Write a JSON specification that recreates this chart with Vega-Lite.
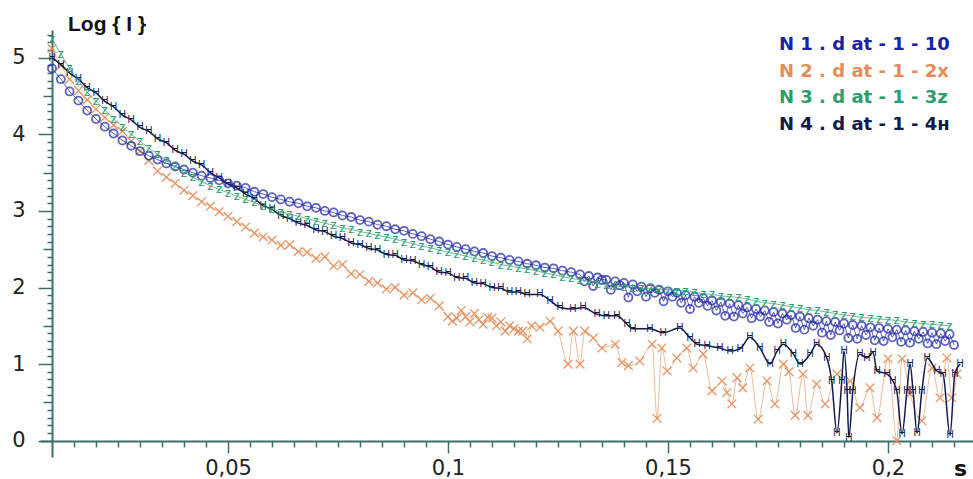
{
"$schema":"https://vega.github.io/schema/vega-lite/v6.json",
"width":933,"height":427,"autosize":"none",
"padding":{"left":40,"top":30,"right":0,"bottom":22},
"background":"white",
"config":{"view":{"stroke":null},"font":"DejaVu Sans","locale":{"number":{"decimal":",","thousands":".","grouping":[3],"currency":["","€"]}}},
"title":{"text":"Log { I }","anchor":"start","frame":"group","fontSize":21,"fontWeight":"bold","font":"Liberation Sans","color":"#111111","dx":28,"dy":21,"offset":-1,"baseline":"alphabetic"},
"resolve":{"axis":{"x":"independent","y":"independent"}},
"datasets":{
"n1":[{"s":0.010,"v":4.86},{"s":0.012,"v":4.72},{"s":0.014,"v":4.56},{"s":0.016,"v":4.44},{"s":0.018,"v":4.31},{"s":0.020,"v":4.20},{"s":0.022,"v":4.10},{"s":0.024,"v":4.01},{"s":0.026,"v":3.92},{"s":0.028,"v":3.85},{"s":0.030,"v":3.78},{"s":0.032,"v":3.72},{"s":0.034,"v":3.67},{"s":0.036,"v":3.62},{"s":0.038,"v":3.58},{"s":0.040,"v":3.54},{"s":0.042,"v":3.50},{"s":0.044,"v":3.46},{"s":0.046,"v":3.43},{"s":0.048,"v":3.40},{"s":0.050,"v":3.36},{"s":0.052,"v":3.33},{"s":0.054,"v":3.30},{"s":0.056,"v":3.25},{"s":0.058,"v":3.22},{"s":0.060,"v":3.18},{"s":0.062,"v":3.15},{"s":0.064,"v":3.12},{"s":0.066,"v":3.10},{"s":0.068,"v":3.06},{"s":0.070,"v":3.04},{"s":0.072,"v":3.00},{"s":0.074,"v":2.98},{"s":0.076,"v":2.94},{"s":0.078,"v":2.92},{"s":0.080,"v":2.88},{"s":0.082,"v":2.86},{"s":0.084,"v":2.82},{"s":0.086,"v":2.80},{"s":0.088,"v":2.76},{"s":0.090,"v":2.74},{"s":0.092,"v":2.70},{"s":0.094,"v":2.67},{"s":0.096,"v":2.63},{"s":0.098,"v":2.60},{"s":0.100,"v":2.56},{"s":0.102,"v":2.53},{"s":0.104,"v":2.50},{"s":0.106,"v":2.47},{"s":0.108,"v":2.45},{"s":0.110,"v":2.41},{"s":0.112,"v":2.39},{"s":0.114,"v":2.36},{"s":0.116,"v":2.34},{"s":0.118,"v":2.31},{"s":0.120,"v":2.29},{"s":0.122,"v":2.26},{"s":0.124,"v":2.25},{"s":0.126,"v":2.22},{"s":0.128,"v":2.20},{"s":0.130,"v":2.17},{"s":0.131,"v":2.08},{"s":0.132,"v":2.15},{"s":0.133,"v":2.02},{"s":0.134,"v":2.13},{"s":0.135,"v":2.10},{"s":0.136,"v":2.10},{"s":0.137,"v":1.97},{"s":0.138,"v":2.08},{"s":0.139,"v":2.03},{"s":0.140,"v":2.06},{"s":0.141,"v":1.87},{"s":0.142,"v":2.04},{"s":0.143,"v":1.95},{"s":0.144,"v":2.01},{"s":0.145,"v":1.88},{"s":0.146,"v":1.99},{"s":0.147,"v":1.93},{"s":0.148,"v":1.97},{"s":0.149,"v":1.82},{"s":0.150,"v":1.95},{"s":0.151,"v":1.88},{"s":0.152,"v":1.93},{"s":0.153,"v":1.80},{"s":0.154,"v":1.90},{"s":0.155,"v":1.72},{"s":0.156,"v":1.88},{"s":0.157,"v":1.80},{"s":0.158,"v":1.86},{"s":0.159,"v":1.76},{"s":0.160,"v":1.83},{"s":0.161,"v":1.70},{"s":0.162,"v":1.81},{"s":0.163,"v":1.63},{"s":0.164,"v":1.79},{"s":0.165,"v":1.62},{"s":0.166,"v":1.77},{"s":0.167,"v":1.66},{"s":0.168,"v":1.74},{"s":0.169,"v":1.60},{"s":0.170,"v":1.72},{"s":0.171,"v":1.62},{"s":0.172,"v":1.70},{"s":0.173,"v":1.55},{"s":0.174,"v":1.68},{"s":0.175,"v":1.53},{"s":0.176,"v":1.66},{"s":0.177,"v":1.58},{"s":0.178,"v":1.64},{"s":0.179,"v":1.47},{"s":0.180,"v":1.62},{"s":0.181,"v":1.45},{"s":0.182,"v":1.60},{"s":0.183,"v":1.50},{"s":0.184,"v":1.58},{"s":0.185,"v":1.41},{"s":0.186,"v":1.56},{"s":0.187,"v":1.38},{"s":0.188,"v":1.55},{"s":0.189,"v":1.44},{"s":0.190,"v":1.53},{"s":0.191,"v":1.34},{"s":0.192,"v":1.51},{"s":0.193,"v":1.33},{"s":0.194,"v":1.50},{"s":0.195,"v":1.38},{"s":0.196,"v":1.48},{"s":0.197,"v":1.31},{"s":0.198,"v":1.47},{"s":0.199,"v":1.30},{"s":0.200,"v":1.46},{"s":0.201,"v":1.35},{"s":0.202,"v":1.45},{"s":0.203,"v":1.29},{"s":0.204,"v":1.44},{"s":0.205,"v":1.28},{"s":0.206,"v":1.43},{"s":0.207,"v":1.33},{"s":0.208,"v":1.42},{"s":0.209,"v":1.27},{"s":0.210,"v":1.41},{"s":0.211,"v":1.26},{"s":0.212,"v":1.40},{"s":0.213,"v":1.30},{"s":0.214,"v":1.39},{"s":0.215,"v":1.25}],
"n2":[{"s":0.010,"v":5.12},{"s":0.012,"v":4.90},{"s":0.014,"v":4.72},{"s":0.016,"v":4.57},{"s":0.018,"v":4.45},{"s":0.020,"v":4.33},{"s":0.022,"v":4.22},{"s":0.024,"v":4.12},{"s":0.026,"v":4.04},{"s":0.028,"v":3.91},{"s":0.030,"v":3.78},{"s":0.032,"v":3.66},{"s":0.034,"v":3.52},{"s":0.036,"v":3.44},{"s":0.038,"v":3.36},{"s":0.040,"v":3.27},{"s":0.042,"v":3.20},{"s":0.044,"v":3.12},{"s":0.046,"v":3.06},{"s":0.048,"v":2.99},{"s":0.050,"v":2.93},{"s":0.052,"v":2.86},{"s":0.054,"v":2.79},{"s":0.056,"v":2.71},{"s":0.058,"v":2.66},{"s":0.060,"v":2.62},{"s":0.062,"v":2.55},{"s":0.064,"v":2.56},{"s":0.066,"v":2.47},{"s":0.068,"v":2.46},{"s":0.070,"v":2.38},{"s":0.072,"v":2.40},{"s":0.074,"v":2.28},{"s":0.076,"v":2.30},{"s":0.078,"v":2.18},{"s":0.080,"v":2.17},{"s":0.082,"v":2.08},{"s":0.084,"v":2.06},{"s":0.086,"v":1.98},{"s":0.088,"v":2.00},{"s":0.090,"v":1.90},{"s":0.092,"v":1.93},{"s":0.094,"v":1.84},{"s":0.096,"v":1.86},{"s":0.098,"v":1.76},{"s":0.100,"v":1.62},{"s":0.101,"v":1.56},{"s":0.102,"v":1.60},{"s":0.103,"v":1.70},{"s":0.104,"v":1.62},{"s":0.105,"v":1.55},{"s":0.106,"v":1.66},{"s":0.107,"v":1.58},{"s":0.108,"v":1.52},{"s":0.109,"v":1.61},{"s":0.110,"v":1.60},{"s":0.111,"v":1.50},{"s":0.112,"v":1.55},{"s":0.113,"v":1.43},{"s":0.114,"v":1.50},{"s":0.115,"v":1.46},{"s":0.116,"v":1.43},{"s":0.117,"v":1.43},{"s":0.118,"v":1.33},{"s":0.119,"v":1.50},{"s":0.1209,"v":1.48},{"s":0.1232,"v":1.56},{"s":0.125,"v":1.43},{"s":0.1273,"v":1.0},{"s":0.1285,"v":1.43},{"s":0.130,"v":1.0},{"s":0.1311,"v":1.43},{"s":0.133,"v":1.34},{"s":0.135,"v":1.21},{"s":0.138,"v":1.26},{"s":0.1395,"v":1.02},{"s":0.141,"v":0.98},{"s":0.1436,"v":1.04},{"s":0.1464,"v":1.26},{"s":0.1475,"v":0.29},{"s":0.1486,"v":1.21},{"s":0.1498,"v":0.91},{"s":0.152,"v":1.08},{"s":0.1543,"v":1.21},{"s":0.1557,"v":0.95},{"s":0.158,"v":1.13},{"s":0.160,"v":0.65},{"s":0.1623,"v":0.78},{"s":0.1634,"v":0.63},{"s":0.1645,"v":0.48},{"s":0.1657,"v":0.82},{"s":0.167,"v":0.69},{"s":0.1686,"v":0.95},{"s":0.1705,"v":0.28},{"s":0.1725,"v":0.78},{"s":0.1743,"v":0.48},{"s":0.1762,"v":1.0},{"s":0.1775,"v":0.90},{"s":0.1789,"v":0.33},{"s":0.1807,"v":0.87},{"s":0.1818,"v":0.33},{"s":0.1838,"v":0.74},{"s":0.1857,"v":0.48},{"s":0.1884,"v":0.87},{"s":0.1914,"v":0.78},{"s":0.1936,"v":0.43},{"s":0.1959,"v":0.69},{"s":0.1975,"v":0.30},{"s":0.200,"v":1.07},{"s":0.202,"v":0.0},{"s":0.2032,"v":1.07},{"s":0.205,"v":0.61},{"s":0.2077,"v":0.26},{"s":0.210,"v":0.95},{"s":0.2118,"v":0.56},{"s":0.2134,"v":1.08},{"s":0.2145,"v":0.56},{"s":0.2157,"v":0.87}],
"n3":[{"s":0.010,"v":5.25},{"s":0.012,"v":5.05},{"s":0.014,"v":4.86},{"s":0.016,"v":4.70},{"s":0.018,"v":4.55},{"s":0.020,"v":4.43},{"s":0.022,"v":4.32},{"s":0.024,"v":4.20},{"s":0.026,"v":4.10},{"s":0.028,"v":4.00},{"s":0.030,"v":3.91},{"s":0.032,"v":3.82},{"s":0.034,"v":3.74},{"s":0.036,"v":3.66},{"s":0.038,"v":3.58},{"s":0.040,"v":3.50},{"s":0.042,"v":3.44},{"s":0.044,"v":3.38},{"s":0.046,"v":3.33},{"s":0.048,"v":3.28},{"s":0.050,"v":3.24},{"s":0.052,"v":3.19},{"s":0.054,"v":3.15},{"s":0.056,"v":3.11},{"s":0.058,"v":3.06},{"s":0.060,"v":3.02},{"s":0.062,"v":2.99},{"s":0.064,"v":2.96},{"s":0.066,"v":2.93},{"s":0.068,"v":2.90},{"s":0.070,"v":2.87},{"s":0.072,"v":2.84},{"s":0.074,"v":2.81},{"s":0.076,"v":2.78},{"s":0.078,"v":2.76},{"s":0.080,"v":2.73},{"s":0.082,"v":2.71},{"s":0.084,"v":2.68},{"s":0.086,"v":2.66},{"s":0.088,"v":2.63},{"s":0.090,"v":2.60},{"s":0.092,"v":2.57},{"s":0.094,"v":2.54},{"s":0.096,"v":2.52},{"s":0.098,"v":2.49},{"s":0.100,"v":2.46},{"s":0.102,"v":2.44},{"s":0.104,"v":2.41},{"s":0.106,"v":2.38},{"s":0.108,"v":2.36},{"s":0.110,"v":2.33},{"s":0.112,"v":2.30},{"s":0.114,"v":2.28},{"s":0.116,"v":2.26},{"s":0.118,"v":2.24},{"s":0.120,"v":2.22},{"s":0.122,"v":2.19},{"s":0.124,"v":2.17},{"s":0.126,"v":2.14},{"s":0.128,"v":2.12},{"s":0.130,"v":2.10},{"s":0.132,"v":2.08},{"s":0.134,"v":2.05},{"s":0.136,"v":2.03},{"s":0.138,"v":2.02},{"s":0.140,"v":2.01},{"s":0.142,"v":2.00},{"s":0.144,"v":1.99},{"s":0.146,"v":1.99},{"s":0.148,"v":1.98},{"s":0.150,"v":1.97},{"s":0.152,"v":1.96},{"s":0.154,"v":1.96},{"s":0.156,"v":1.94},{"s":0.158,"v":1.92},{"s":0.160,"v":1.91},{"s":0.162,"v":1.89},{"s":0.164,"v":1.88},{"s":0.166,"v":1.87},{"s":0.168,"v":1.85},{"s":0.170,"v":1.82},{"s":0.172,"v":1.80},{"s":0.174,"v":1.79},{"s":0.176,"v":1.77},{"s":0.178,"v":1.75},{"s":0.180,"v":1.73},{"s":0.182,"v":1.71},{"s":0.184,"v":1.70},{"s":0.186,"v":1.68},{"s":0.188,"v":1.66},{"s":0.190,"v":1.64},{"s":0.192,"v":1.63},{"s":0.194,"v":1.61},{"s":0.196,"v":1.60},{"s":0.198,"v":1.59},{"s":0.200,"v":1.58},{"s":0.202,"v":1.57},{"s":0.204,"v":1.55},{"s":0.206,"v":1.54},{"s":0.208,"v":1.53},{"s":0.210,"v":1.52},{"s":0.212,"v":1.51},{"s":0.214,"v":1.50}],
"n4":[{"s":0.010,"v":5.00},{"s":0.012,"v":4.91},{"s":0.014,"v":4.80},{"s":0.016,"v":4.72},{"s":0.018,"v":4.61},{"s":0.020,"v":4.54},{"s":0.022,"v":4.43},{"s":0.024,"v":4.36},{"s":0.026,"v":4.25},{"s":0.028,"v":4.19},{"s":0.030,"v":4.09},{"s":0.032,"v":4.04},{"s":0.034,"v":3.94},{"s":0.036,"v":3.89},{"s":0.038,"v":3.79},{"s":0.040,"v":3.74},{"s":0.042,"v":3.65},{"s":0.044,"v":3.60},{"s":0.046,"v":3.50},{"s":0.048,"v":3.43},{"s":0.050,"v":3.35},{"s":0.052,"v":3.30},{"s":0.054,"v":3.22},{"s":0.056,"v":3.16},{"s":0.058,"v":3.07},{"s":0.060,"v":3.02},{"s":0.062,"v":2.94},{"s":0.064,"v":2.90},{"s":0.066,"v":2.84},{"s":0.068,"v":2.81},{"s":0.070,"v":2.75},{"s":0.072,"v":2.73},{"s":0.074,"v":2.67},{"s":0.076,"v":2.64},{"s":0.078,"v":2.58},{"s":0.080,"v":2.56},{"s":0.082,"v":2.51},{"s":0.084,"v":2.49},{"s":0.086,"v":2.43},{"s":0.088,"v":2.42},{"s":0.090,"v":2.36},{"s":0.092,"v":2.35},{"s":0.094,"v":2.30},{"s":0.096,"v":2.27},{"s":0.098,"v":2.20},{"s":0.100,"v":2.19},{"s":0.102,"v":2.13},{"s":0.104,"v":2.12},{"s":0.106,"v":2.06},{"s":0.108,"v":2.05},{"s":0.110,"v":2.00},{"s":0.112,"v":1.99},{"s":0.114,"v":1.94},{"s":0.116,"v":1.94},{"s":0.118,"v":1.91},{"s":0.1209,"v":1.91},{"s":0.1232,"v":1.83},{"s":0.1255,"v":1.74},{"s":0.1284,"v":1.72},{"s":0.1307,"v":1.74},{"s":0.1339,"v":1.65},{"s":0.136,"v":1.63},{"s":0.1384,"v":1.63},{"s":0.1407,"v":1.52},{"s":0.142,"v":1.46},{"s":0.1459,"v":1.46},{"s":0.1489,"v":1.41},{"s":0.1527,"v":1.47},{"s":0.155,"v":1.34},{"s":0.1566,"v":1.26},{"s":0.1589,"v":1.24},{"s":0.1618,"v":1.21},{"s":0.1641,"v":1.17},{"s":0.1664,"v":1.20},{"s":0.1686,"v":1.35},{"s":0.1709,"v":1.21},{"s":0.1732,"v":1.00},{"s":0.1748,"v":1.17},{"s":0.1762,"v":1.26},{"s":0.1785,"v":1.13},{"s":0.180,"v":1.00},{"s":0.1823,"v":1.13},{"s":0.1838,"v":1.26},{"s":0.1861,"v":1.08},{"s":0.1872,"v":0.78},{"s":0.1884,"v":0.10},{"s":0.1895,"v":0.78},{"s":0.190,"v":1.17},{"s":0.1907,"v":0.65},{"s":0.1911,"v":0.04},{"s":0.192,"v":0.65},{"s":0.1936,"v":1.13},{"s":0.1952,"v":1.08},{"s":0.1966,"v":1.15},{"s":0.1975,"v":0.91},{"s":0.1998,"v":0.87},{"s":0.2011,"v":0.78},{"s":0.202,"v":0.65},{"s":0.2032,"v":0.09},{"s":0.2043,"v":0.65},{"s":0.205,"v":1.00},{"s":0.2057,"v":0.65},{"s":0.2066,"v":0.10},{"s":0.2077,"v":0.65},{"s":0.2089,"v":1.08},{"s":0.2111,"v":0.91},{"s":0.2125,"v":0.87},{"s":0.2141,"v":0.07},{"s":0.2152,"v":0.87},{"s":0.2164,"v":1.00}]
},
"layer":[
{"data":{"name":"n2"},"mark":{"type":"line","interpolate":"monotone","strokeWidth":1,"opacity":0.6},
 "encoding":{
  "x":{"field":"s","type":"quantitative","scale":{"domain":[0.00727,0.21932],"nice":false,"zero":false},
   "axis":{"orient":"bottom","offset":-16,"title":"s","titleFontSize":22,"titleFontWeight":"bold","titleFont":"DejaVu Sans","titleColor":"#111111","titleX":920,"titleY":34,"titleAlign":"center","titleBaseline":"alphabetic",
    "values":[0.05,0.1,0.15,0.2],"format":".2~f",
    "labelOverlap":false,"labelFontSize":21,"labelColor":"#222222","labelPadding":4,"labelFont":"DejaVu Sans",
    "domain":true,"domainColor":"#3d6f6f","domainWidth":2,"tickColor":"#3d6f6f","tickWidth":1.5,"tickSize":12,"grid":false}},
  "y":{"field":"v","type":"quantitative","scale":{"domain":[-0.213,5.362],"nice":false,"zero":false},
   "axis":{"orient":"left","offset":-12,"title":null,"values":[0,1,2,3,4,5],"format":"d",
    "labelOverlap":false,"labelFontSize":21,"labelColor":"#222222","labelPadding":13,"labelFont":"DejaVu Sans",
    "domain":true,"domainColor":"#3d6f6f","domainWidth":2,"tickColor":"#3d6f6f","tickWidth":1.5,"tickSize":14,"grid":false}},
  "color":{"datum":"N2","type":"nominal","scale":{"domain":["N1","N2","N3","N4"],"range":["#1a22a3","#e58c57","#2a9e6c","#111a4d"]},
   "legend":{"orient":"none","legendX":721,"legendY":6,"title":null,"symbolSize":0,"symbolOpacity":0,"symbolStrokeWidth":0,"labelOffset":0,"padding":0,"rowPadding":8.5,"labelFontSize":18,"labelFontWeight":"bold","labelFont":"DejaVu Sans","labelLimit":0,
    "labelExpr":"datum.label == 'N1' ? 'N 1 . d at - 1 - 10' : datum.label == 'N2' ? 'N 2 . d at - 1 - 2x' : datum.label == 'N3' ? 'N 3 . d at - 1 - 3z' : 'N 4 . d at - 1 - 4ʜ'",
    "encode":{"labels":{"update":{"fill":{"scale":"color","field":"value"}}}}}}
 }},
{"data":{"name":"n2"},"mark":{"type":"point","shape":"M-1,-1L1,1M-1,1L1,-1","filled":false,"size":75,"strokeWidth":1.3,"opacity":0.9},
 "encoding":{
  "x":{"field":"s","type":"quantitative","axis":{"orient":"bottom","offset":-16,"title":null,"labels":false,"domain":false,
    "values":[0.015,0.02,0.025,0.03,0.035,0.04,0.045,0.055,0.06,0.065,0.07,0.075,0.08,0.085,0.09,0.095,0.105,0.11,0.115,0.12,0.125,0.13,0.135,0.14,0.145,0.155,0.16,0.165,0.17,0.175,0.18,0.185,0.19,0.195,0.205,0.21,0.215],
    "tickColor":"#3d6f6f","tickWidth":1.5,"tickSize":6,"grid":false}},
  "y":{"field":"v","type":"quantitative","axis":{"orient":"left","offset":-12,"title":null,"labels":false,"domain":false,
    "values":[0.1,0.2,0.3,0.4,0.6,0.7,0.8,0.9,1.1,1.2,1.3,1.4,1.6,1.7,1.8,1.9,2.1,2.2,2.3,2.4,2.6,2.7,2.8,2.9,3.1,3.2,3.3,3.4,3.6,3.7,3.8,3.9,4.1,4.2,4.3,4.4,4.6,4.7,4.8,4.9,5.1,5.2,5.3],
    "tickColor":"#3d6f6f","tickWidth":1.5,"tickSize":5,"grid":false}},
  "color":{"datum":"N2","type":"nominal"}}},
{"data":{"name":"n4"},"mark":{"type":"line","interpolate":"monotone","strokeWidth":1.5},
 "encoding":{"x":{"field":"s","type":"quantitative","axis":null},
  "y":{"field":"v","type":"quantitative","axis":{"orient":"left","offset":-12,"title":null,"labels":false,"domain":false,
    "values":[0.5,1.5,2.5,3.5,4.5],"tickColor":"#3d6f6f","tickWidth":1.5,"tickSize":9,"grid":false}},
  "color":{"datum":"N4","type":"nominal"}}},
{"data":{"name":"n4"},"mark":{"type":"text","fontSize":10,"font":"Liberation Sans"},
 "encoding":{"x":{"field":"s","type":"quantitative","axis":null},"y":{"field":"v","type":"quantitative","axis":null},"text":{"value":"H"},"color":{"datum":"N4","type":"nominal"}}},
{"data":{"name":"n1"},"mark":{"type":"line","strokeWidth":1,"opacity":0.7},
 "encoding":{"x":{"field":"s","type":"quantitative","axis":null},"y":{"field":"v","type":"quantitative","axis":null},"color":{"datum":"N1","type":"nominal"}}},
{"data":{"name":"n1"},"mark":{"type":"point","shape":"circle","filled":false,"size":65,"strokeWidth":1.8},
 "encoding":{"x":{"field":"s","type":"quantitative","axis":null},"y":{"field":"v","type":"quantitative","axis":null},"color":{"datum":"N1","type":"nominal"}}},
{"data":{"name":"n3"},"mark":{"type":"line","strokeWidth":1,"opacity":0.7},
 "encoding":{"x":{"field":"s","type":"quantitative","axis":null},"y":{"field":"v","type":"quantitative","axis":null},"color":{"datum":"N3","type":"nominal"}}},
{"data":{"name":"n3"},"mark":{"type":"text","fontSize":13,"font":"Liberation Sans"},
 "encoding":{"x":{"field":"s","type":"quantitative","axis":null},"y":{"field":"v","type":"quantitative","axis":null},"text":{"value":"z"},"color":{"datum":"N3","type":"nominal"}}}
]
}
